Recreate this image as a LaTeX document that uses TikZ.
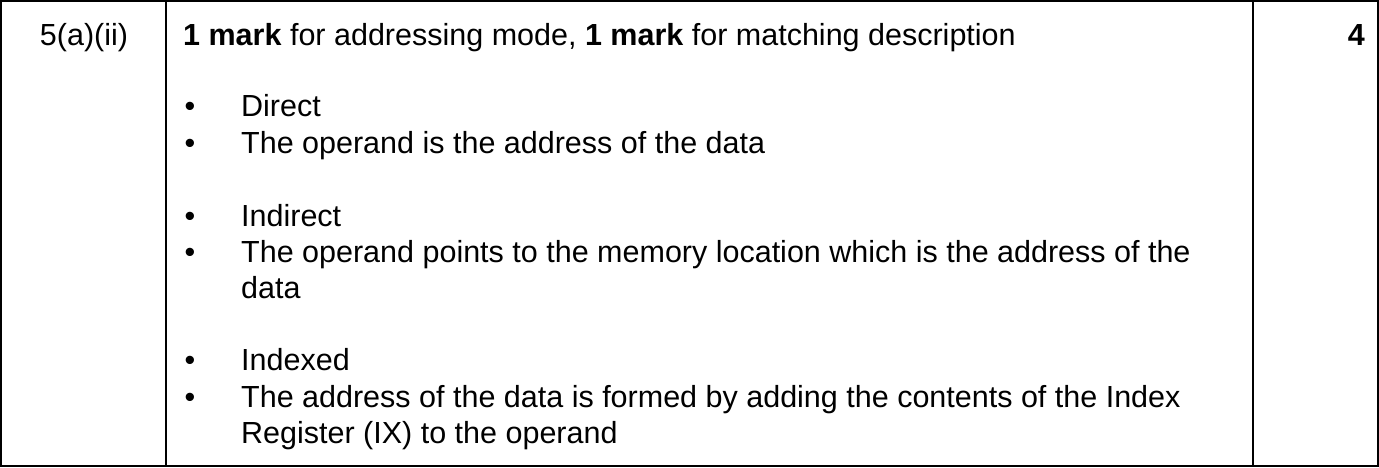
\documentclass[tikz,border=0pt]{standalone}
\usepackage{fontspec}
\setmainfont{Liberation Sans}
\begin{document}
\begin{tikzpicture}[x=1pt,y=-1pt,
  txt/.style={anchor=base west,inner sep=0pt,font=\fontsize{30.5}{34}\selectfont},
  bul/.style={anchor=base,inner sep=0pt,font=\fontsize{30.5}{34}\selectfont},
  rule/.style={line width=1.6pt,black}]
\useasboundingbox (0,0) rectangle (1379,467);
\draw[rule] (1,1) rectangle (1378,466);
\draw[rule] (166,1) -- (166,466);
\draw[rule] (1253,1) -- (1253,466);
\node[anchor=base,inner sep=0pt,font=\fontsize{30.5}{34}\selectfont] (q) at (84,45) {5(a)(ii)};
\node[txt] (h) at (183,45) {\textbf{1 mark} for addressing mode, \textbf{1 mark} for matching description};
\node[anchor=base east,inner sep=0pt,font=\fontsize{30.5}{34}\selectfont\bfseries] (m) at (1365,45) {4};
\foreach \y/\t [count=\i] in {116/Direct,153/The operand is the address of the data,226/Indirect,262/The operand points to the memory location which is the address of the,370/Indexed,407/The address of the data is formed by adding the contents of the Index}{
  \node[bul] (b\i) at (190,\y) {\textbullet};
  \node[txt] (t\i) at (241,\y) {\t};
}
\node[txt] (t7) at (241,298) {data};
\node[txt] (t8) at (241,443) {Register (IX) to the operand};
\end{tikzpicture}
\end{document}
